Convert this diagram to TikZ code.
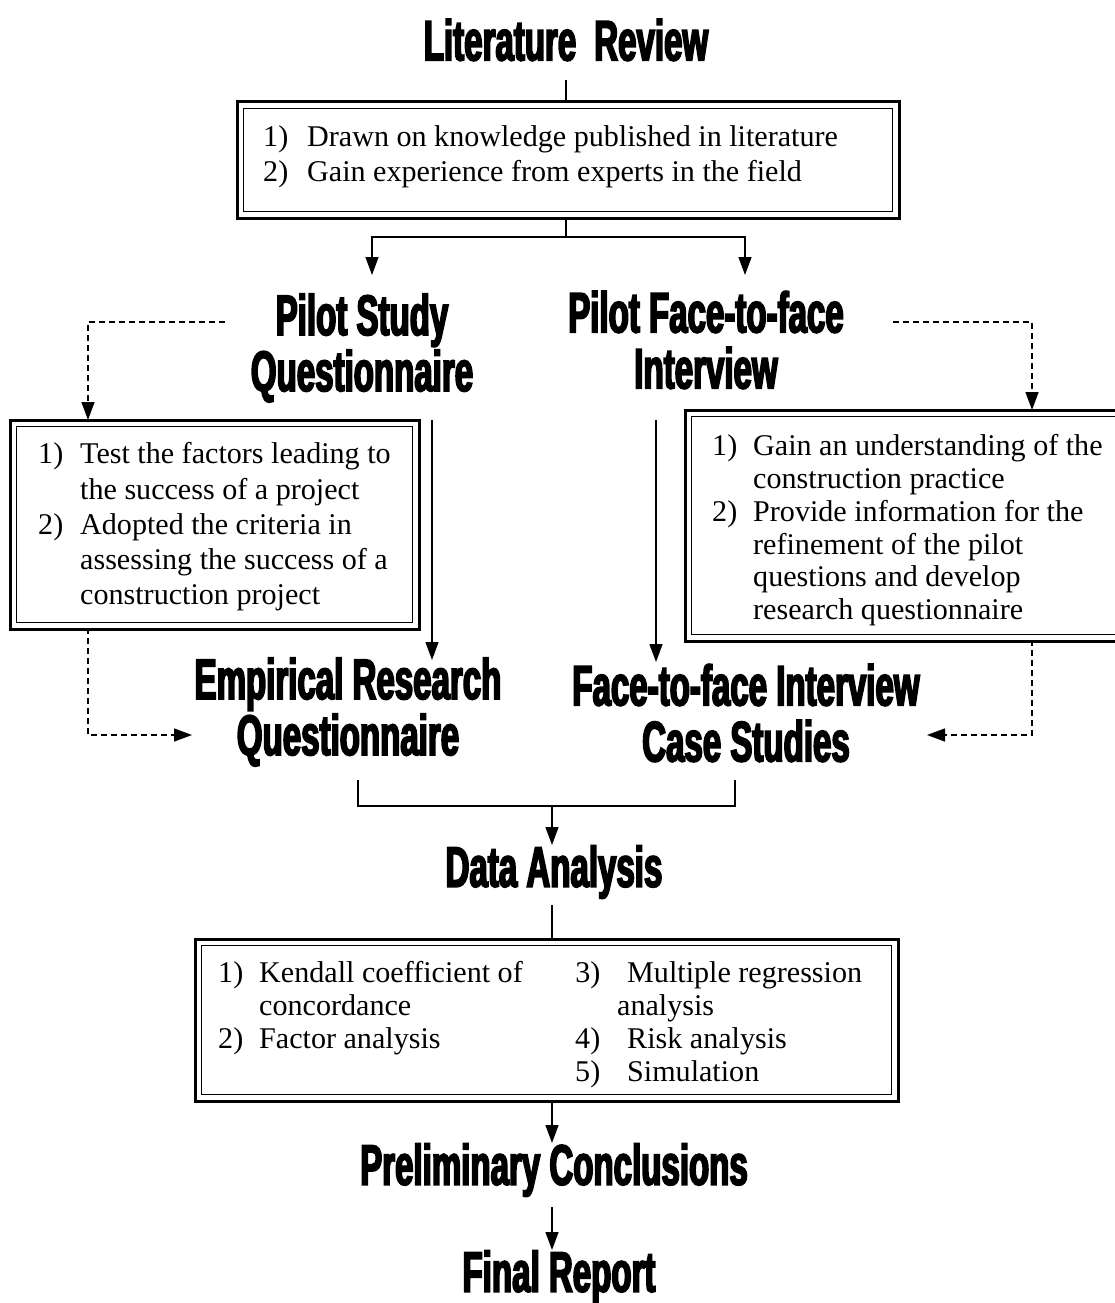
\documentclass[tikz,border=0pt]{standalone}
\usepackage{fontspec}
\setmainfont{Liberation Serif}
\newfontfamily\headfont[FakeStretch=0.58,FakeBold=3]{Liberation Sans Bold}
\usetikzlibrary{arrows.meta}

\tikzset{
  heading/.style={font=\headfont\fontsize{57}{56}\selectfont, align=center, inner sep=0pt},
  framebox/.style={draw, line width=1.3pt, anchor=north west, inner sep=0pt},
  boxtext/.style={anchor=north west, inner sep=0pt},
  frameline/.style={line width=3pt},
  link/.style={line width=1.4pt},
  arr/.style={link, -{Triangle[length=18pt,width=13pt]}},
  darr/.style={arr, dash pattern=on 6pt off 4pt},
}
% second, heavier frame drawn 6pt outside a box
\newcommand\dframe[1]{\draw[frameline] ([xshift=-6pt,yshift=6pt]#1.north west) rectangle ([xshift=6pt,yshift=-6pt]#1.south east);}

\begin{document}
\begin{tikzpicture}[x=1pt,y=-1pt]
\useasboundingbox (0,0) rectangle (1115,1303);

% ---------- headings ----------
\node[heading] (lit) at (566,40) {Literature\hspace{18pt}Review};
\node[heading] (pq)  at (362,348) {Pilot Study\\Questionnaire};
\node[heading] (pf)  at (706,340) {Pilot Face-to-face\\Interview};
\node[heading] (eq)  at (348,712) {Empirical Research\\Questionnaire};
\node[heading] (fc)  at (746,713) {Face-to-face Interview\\Case Studies};
\node[heading] (da)  at (554,872) {Data Analysis};
\node[heading] (pc)  at (554,1170) {Preliminary Conclusions};
\node[heading] (fr)  at (559,1277) {Final Report};

% ---------- framed boxes ----------
\node[framebox, minimum width=649pt, minimum height=103pt] (litbox) at (243,108) {};
\node[framebox, minimum width=396pt, minimum height=196pt] (qbox)   at (16,426) {};
\node[framebox, minimum width=434pt, minimum height=218pt] (ibox)   at (691,416) {};
\node[framebox, minimum width=690pt, minimum height=149pt] (abox)   at (201,945) {};
\dframe{litbox}
\dframe{qbox}
\dframe{ibox}
\dframe{abox}

% ---------- box contents ----------
\node[boxtext, font=\fontsize{30.1}{35}\selectfont] (littext)
  at ([xshift=20pt,yshift=-13.5pt]litbox.north west) {%
\begin{tabular}{@{}p{44pt}@{}l@{}}
1) & Drawn on knowledge published in literature\\
2) & Gain experience from experts in the field
\end{tabular}};

\node[boxtext, font=\fontsize{30.1}{35.3}\selectfont] (qtext)
  at ([xshift=22pt,yshift=-12.8pt]qbox.north west) {%
\begin{tabular}{@{}p{42pt}@{}l@{}}
1) & Test the factors leading to\\
   & the success of a project\\
2) & Adopted the criteria in\\
   & assessing the success of a\\
   & construction project
\end{tabular}};

\node[boxtext, font=\fontsize{30.1}{32.8}\selectfont] (itext)
  at ([xshift=21pt,yshift=-16.6pt]ibox.north west) {%
\begin{tabular}{@{}p{41pt}@{}l@{}}
1) & Gain an understanding of the\\
   & construction practice\\
2) & Provide information for the\\
   & refinement of the pilot\\
   & questions and develop\\
   & research questionnaire
\end{tabular}};

\node[boxtext, font=\fontsize{30.1}{33}\selectfont] (atext)
  at ([xshift=17pt,yshift=-14.5pt]abox.north west) {%
\begin{tabular}{@{}p{41pt}@{}p{316pt}@{}p{42pt}@{}l@{}}
1) & Kendall coefficient of & 3) & \hspace{10pt}Multiple regression\\
   & concordance            &    & analysis\\
2) & Factor analysis        & 4) & \hspace{10pt}Risk analysis\\
   &                        & 5) & \hspace{10pt}Simulation
\end{tabular}};

% ---------- connector end points ----------
\coordinate (litstem) at (566,80);
\coordinate (split)   at (566,237);
\coordinate (pqin)    at (372,275);
\coordinate (pfin)    at (745,275);
\coordinate (pqout)   at (225,322);
\coordinate (qin)     at (88,420);
\coordinate (pfout)   at (893,322);
\coordinate (iin)     at (1032,410);
\coordinate (pqdown)  at (432,420);
\coordinate (eqin)    at (432,660);
\coordinate (pfdown)  at (656,420);
\coordinate (fcin)    at (656,662);
\coordinate (qout)    at (88,628);
\coordinate (eqside)  at (192,735);
\coordinate (iout)    at (1032,640);
\coordinate (fcside)  at (927,735);
\coordinate (eqfoot)  at (358,780);
\coordinate (fcfoot)  at (735,780);
\coordinate (join)    at (552,806);
\coordinate (dain)    at (552,845);
\coordinate (daout)   at (552,905);
\coordinate (pcin)    at (552,1143);
\coordinate (pcout)   at (552,1207);
\coordinate (frin)    at (552,1250);

% ---------- connectors ----------
\draw[link] (litstem) -- ([yshift=6pt]litbox.north -| litstem);
\draw[link] ([yshift=-6pt]litbox.south -| split) -- (split);
\draw[arr] (split) -| (pqin);
\draw[arr] (split) -| (pfin);

\draw[darr] (pqout) -| (qin);
\draw[darr] (pfout) -| (iin);
\draw[arr] (pqdown) -- (eqin);
\draw[arr] (pfdown) -- (fcin);
\draw[darr] (qout) |- (eqside);
\draw[darr] (iout) |- (fcside);

\draw[link] (eqfoot) |- (join) -| (fcfoot);
\draw[arr] (join) -- (dain);
\draw[link] (daout) -- ([yshift=6pt]abox.north -| daout);
\draw[arr] ([yshift=-6pt]abox.south -| pcin) -- (pcin);
\draw[arr] (pcout) -- (frin);
\end{tikzpicture}
\end{document}
